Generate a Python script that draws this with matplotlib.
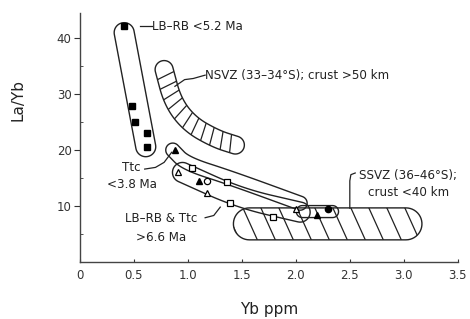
import numpy as np
import matplotlib
matplotlib.use("Agg")
import matplotlib.pyplot as plt
from matplotlib.patches import Polygon

plt.rcParams["font.family"] = ["DejaVu Sans"]

# sample points (Yb ppm, La/Yb)
lbrb_young_x = [0.41, 0.48, 0.51, 0.62, 0.62]
lbrb_young_y = [42.2, 27.8, 25.0, 23.0, 20.5]

ttc_young_x = [0.88, 1.10, 2.20]
ttc_young_y = [20.0, 14.5, 8.3]

old_tri_x = [0.91, 1.18, 2.00]
old_tri_y = [16.0, 12.3, 9.5]
old_sq_x = [1.04, 1.36, 1.39, 1.79]
old_sq_y = [16.8, 14.3, 10.6, 8.0]
old_circ_x = [1.18]
old_circ_y = [14.4]
filled_circ_x = [2.30]
filled_circ_y = [9.5]

# field envelopes: centre lines (Yb, La/Yb) and half widths in pixels
lbrb_env = ([0.41, 0.61], [41.0, 20.6], 10)
ttc_env = ([0.86, 0.98, 1.40, 2.04], [20.0, 17.6, 15.0, 10.5], 7)
old_env = ([0.95, 1.48, 2.04], [16.0, 11.4, 8.9], 10)
end_env = ([2.06, 2.34], [9.0, 9.0], 6)
nsvz_env = ([0.78, 0.86, 1.02, 1.26, 1.44], [34.4, 28.6, 24.6, 22.0, 20.9], 9)
ssvz_env = ([1.57, 3.02], [6.8, 6.8], 16)

PX_X, PX_Y = 108.0, 5.6


def centre(xs, ys):
    p = np.column_stack([np.array(xs) * PX_X, np.array(ys) * PX_Y])
    if len(p) == 2:
        t = np.linspace(0, 1, 40)[:, None]
        return p[0] + t * (p[1] - p[0])
    for _ in range(5):
        q = [p[0]]
        for a, b in zip(p[:-1], p[1:]):
            q += [0.75 * a + 0.25 * b, 0.25 * a + 0.75 * b]
        q.append(p[-1])
        p = np.array(q)
    return p


def band(xs, ys, hw, n=24):
    # outline of a band of constant width round a centre line, round ends
    p = centre(xs, ys)
    d = np.gradient(p, axis=0)
    d /= np.hypot(d[:, 0], d[:, 1])[:, None]
    nrm = np.column_stack([-d[:, 1], d[:, 0]])
    left = p + nrm * hw
    right = (p - nrm * hw)[::-1]
    a0 = np.arctan2(d[-1, 1], d[-1, 0])
    th = np.linspace(a0 + np.pi / 2, a0 - np.pi / 2, n)
    cap1 = p[-1] + hw * np.column_stack([np.cos(th), np.sin(th)])
    a1 = np.arctan2(-d[0, 1], -d[0, 0])
    th = np.linspace(a1 + np.pi / 2, a1 - np.pi / 2, n)
    cap2 = p[0] + hw * np.column_stack([np.cos(th), np.sin(th)])
    out = np.vstack([left, cap1, right, cap2])
    return np.column_stack([out[:, 0] / PX_X, out[:, 1] / PX_Y])


def rungs(xs, ys, hw, step=10.0):
    # cross strokes along a band
    p = centre(xs, ys)
    d = np.gradient(p, axis=0)
    d /= np.hypot(d[:, 0], d[:, 1])[:, None]
    nrm = np.column_stack([-d[:, 1], d[:, 0]])
    s = np.concatenate([[0], np.cumsum(np.hypot(*np.diff(p, axis=0).T))])
    segs = []
    for v in np.arange(step * 0.6, s[-1], step):
        i = np.searchsorted(s, v)
        a = p[i] + nrm[i] * hw * 1.1 - d[i] * 2
        b = p[i] - nrm[i] * hw * 1.1 + d[i] * 2
        segs.append(([a[0] / PX_X, b[0] / PX_X], [a[1] / PX_Y, b[1] / PX_Y]))
    return segs


fig = plt.figure(figsize=(4.7, 3.19), dpi=100)
ax = fig.add_axes([0.170, 0.179, 0.804, 0.780])
ax.set_xlim(0, 3.5)
ax.set_ylim(0, 44.5)

lc = "#222222"
for env in [lbrb_env, ttc_env, old_env, end_env]:
    ax.add_patch(Polygon(band(*env), closed=True, fill=False, ec=lc, lw=1.0))

nsvz_patch = Polygon(band(*nsvz_env), closed=True, fill=False, ec=lc, lw=1.0)
ax.add_patch(nsvz_patch)
for sx, sy in rungs(*nsvz_env):
    ln, = ax.plot(sx, sy, color=lc, lw=0.9)
    ln.set_clip_path(nsvz_patch)

ssvz_patch = Polygon(band(*ssvz_env), closed=True, fill=False, ec=lc, lw=1.0)
ax.add_patch(ssvz_patch)
for x0 in np.arange(1.30, 3.30, 18 / PX_X):
    ln, = ax.plot([x0, x0 + 24 / PX_X], [11.5, 2.0], color=lc, lw=0.9)
    ln.set_clip_path(ssvz_patch)

ms = 4.5
ax.plot(lbrb_young_x, lbrb_young_y, "s", color="black", ms=ms)
ax.plot(ttc_young_x, ttc_young_y, "^", color="black", ms=ms)
ax.plot(old_tri_x, old_tri_y, "^", mfc="white", mec="black", ms=ms, mew=0.9)
ax.plot(old_sq_x, old_sq_y, "s", mfc="white", mec="black", ms=ms, mew=0.9)
ax.plot(old_circ_x, old_circ_y, "o", mfc="white", mec="black", ms=ms, mew=0.9)
ax.plot(filled_circ_x, filled_circ_y, "o", color="black", ms=ms)

fs = 8.6
tc = "#222222"
ax.plot([0.56, 0.67], [42.1, 42.1], color=lc, lw=0.9)
ax.text(0.67, 42.1, "LB–RB <5.2 Ma", fontsize=fs, va="center", color=tc)

ax.plot([0.88, 0.97, 1.05, 1.16], [31.4, 32.6, 32.8, 33.4], color=lc, lw=0.9)
ax.text(1.16, 33.4, "NSVZ (33–34°S); crust >50 km", fontsize=fs,
        va="center", color=tc)

ax.plot([0.60, 0.70, 0.78, 0.85], [16.6, 16.9, 17.8, 19.6], color=lc, lw=0.9)
ax.text(0.48, 15.3, "Ttc\n<3.8 Ma", fontsize=fs, ha="center", va="center",
        color=tc, linespacing=1.4)

ax.plot([1.16, 1.24, 1.30], [7.9, 8.3, 9.8], color=lc, lw=0.9)
ax.text(0.75, 6.0, "LB–RB & Ttc\n>6.6 Ma", fontsize=fs, ha="center",
        va="center", color=tc, linespacing=1.6)

ax.plot([2.55, 2.51, 2.50, 2.50], [15.9, 15.6, 14.5, 9.6], color=lc, lw=0.9)
ax.text(3.04, 13.9, "SSVZ (36–46°S);\ncrust <40 km", fontsize=fs,
        ha="center", va="center", color=tc, linespacing=1.4)

for s in ["top", "right"]:
    ax.spines[s].set_visible(False)
for s in ["left", "bottom"]:
    ax.spines[s].set_color("#444")
    ax.spines[s].set_linewidth(1.0)

ax.set_xticks(np.arange(0, 3.6, 0.5))
ax.set_xticklabels(["0", "0.5", "1.0", "1.5", "2.0", "2.5", "3.0", "3.5"])
ax.set_yticks([10, 20, 30, 40])
ax.set_yticks([5, 15, 25, 35], minor=True)
ax.tick_params(axis="x", direction="in", length=2.5, labelsize=8.5,
               colors="#333", pad=5)
ax.tick_params(axis="y", which="major", direction="out", length=4,
               labelsize=8.5, colors="#333", pad=2)
ax.tick_params(axis="y", which="minor", direction="in", length=2,
               colors="#333")

ax.set_xlabel("Yb ppm", fontsize=11, color="#222")
ax.set_ylabel("La/Yb", fontsize=11, color="#222")
ax.xaxis.set_label_coords(0.50, -0.16)
ax.yaxis.set_label_coords(-0.145, 0.65)

fig.savefig("out.png", dpi=100)
